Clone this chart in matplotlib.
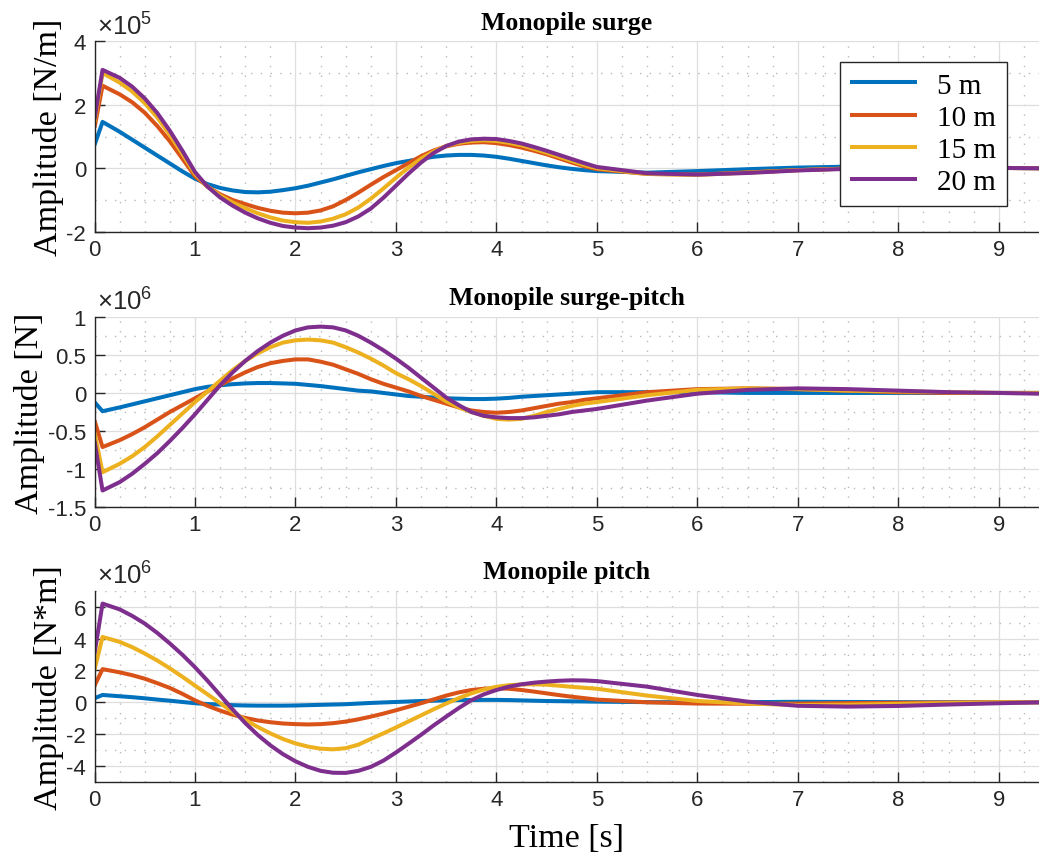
import matplotlib
matplotlib.use("Agg")
import matplotlib.pyplot as plt
from matplotlib.ticker import MultipleLocator, FixedLocator

plt.rcParams['axes.unicode_minus'] = False
plt.rcParams['mathtext.fontset'] = 'custom'
plt.rcParams['mathtext.rm'] = 'Liberation Sans'
plt.rcParams['mathtext.it'] = 'Liberation Sans:italic'

# ---------------- data ----------------
time_s = [0, 0.08, 0.25, 0.375, 0.5, 0.625, 0.75, 0.875, 1.0, 1.125, 1.25, 1.375, 1.5,
          1.625, 1.75, 1.875, 2.0, 2.125, 2.25, 2.375, 2.5, 2.625, 2.75, 2.875, 3.0,
          3.125, 3.25, 3.375, 3.5, 3.625, 3.75, 3.875, 4.0, 4.125, 4.25, 4.375, 4.5,
          4.625, 4.75, 4.875, 5.0, 5.5, 6.0, 6.5, 7.0, 7.5, 8.0, 8.5, 9.0, 9.4]
series_labels = ['5 m', '10 m', '15 m', '20 m']

# Monopile surge, units of 1e5 N/m
surge_5 = [0.73, 1.46, 1.15, 0.90, 0.65, 0.40, 0.15, -0.10, -0.33, -0.50, -0.62, -0.70,
           -0.75, -0.76, -0.74, -0.69, -0.63, -0.55, -0.45, -0.35, -0.24, -0.13, -0.03,
           0.07, 0.16, 0.23, 0.30, 0.36, 0.40, 0.42, 0.42, 0.40, 0.36, 0.30, 0.23, 0.16,
           0.09, 0.03, -0.02, -0.06, -0.09, -0.14, -0.09, -0.03, 0.02, 0.05, 0.05, 0.03,
           0.01, 0.0]
surge_10 = [1.28, 2.60, 2.33, 2.08, 1.75, 1.33, 0.85, 0.30, -0.25, -0.58, -0.82, -1.00,
            -1.13, -1.25, -1.34, -1.40, -1.42, -1.40, -1.33, -1.20, -1.00, -0.77, -0.52,
            -0.28, -0.06, 0.16, 0.38, 0.56, 0.69, 0.77, 0.81, 0.82, 0.79, 0.73, 0.65, 0.55,
            0.44, 0.31, 0.18, 0.06, -0.03, -0.18, -0.20, -0.13, -0.06, -0.01, 0.02, 0.02,
            0.01, 0.0]
surge_15 = [1.45, 3.00, 2.70, 2.42, 2.05, 1.60, 1.05, 0.45, -0.18, -0.58, -0.86, -1.08,
            -1.26, -1.42, -1.55, -1.65, -1.70, -1.72, -1.68, -1.59, -1.45, -1.24, -0.96,
            -0.64, -0.30, 0.02, 0.30, 0.53, 0.70, 0.80, 0.86, 0.88, 0.86, 0.80, 0.72, 0.61,
            0.49, 0.36, 0.23, 0.10, 0.0, -0.18, -0.21, -0.14, -0.06, -0.01, 0.02, 0.02,
            0.01, 0.0]
surge_20 = [1.55, 3.10, 2.85, 2.57, 2.20, 1.74, 1.18, 0.55, -0.12, -0.58, -0.92, -1.18,
            -1.40, -1.58, -1.72, -1.82, -1.87, -1.89, -1.87, -1.81, -1.70, -1.52, -1.27,
            -0.93, -0.55, -0.17, 0.18, 0.48, 0.70, 0.84, 0.91, 0.93, 0.92, 0.86, 0.78, 0.67,
            0.55, 0.42, 0.29, 0.16, 0.04, -0.16, -0.20, -0.15, -0.07, -0.02, 0.02, 0.02,
            0.01, 0.0]

# Monopile surge-pitch, units of 1e6 N
sp_5 = [-0.12, -0.24, -0.19, -0.15, -0.11, -0.07, -0.03, 0.01, 0.05, 0.08, 0.10, 0.115,
        0.125, 0.13, 0.13, 0.125, 0.12, 0.105, 0.09, 0.07, 0.05, 0.03, 0.02, 0.0, -0.02,
        -0.04, -0.05, -0.06, -0.07, -0.075, -0.08, -0.08, -0.075, -0.065, -0.05, -0.04,
        -0.03, -0.02, -0.01, 0.0, 0.01, 0.01, 0.01, 0.0, 0.0, 0.0, 0.0, 0.0, 0.0, 0.0]
sp_10 = [-0.36, -0.71, -0.62, -0.54, -0.45, -0.35, -0.25, -0.16, -0.07, 0.02, 0.10, 0.19,
         0.27, 0.34, 0.39, 0.42, 0.44, 0.44, 0.41, 0.37, 0.31, 0.25, 0.18, 0.12, 0.07,
         0.02, -0.04, -0.09, -0.14, -0.19, -0.23, -0.25, -0.26, -0.25, -0.23, -0.20,
         -0.17, -0.14, -0.12, -0.09, -0.07, 0.01, 0.05, 0.06, 0.05, 0.03, 0.01, 0.0, 0.0,
         0.0]
sp_15 = [-0.52, -1.04, -0.93, -0.83, -0.71, -0.57, -0.42, -0.27, -0.12, 0.02, 0.16, 0.30,
         0.42, 0.52, 0.60, 0.66, 0.69, 0.70, 0.69, 0.66, 0.60, 0.53, 0.45, 0.36, 0.26,
         0.18, 0.09, -0.01, -0.11, -0.19, -0.25, -0.30, -0.34, -0.35, -0.34, -0.30, -0.25,
         -0.21, -0.17, -0.14, -0.12, -0.03, 0.04, 0.06, 0.05, 0.03, 0.02, 0.01, 0.0, 0.0]
sp_20 = [-0.63, -1.28, -1.17, -1.06, -0.93, -0.79, -0.63, -0.46, -0.28, -0.09, 0.10, 0.27,
         0.42, 0.55, 0.66, 0.75, 0.82, 0.86, 0.87, 0.86, 0.82, 0.75, 0.66, 0.56, 0.45,
         0.33, 0.20, 0.07, -0.06, -0.16, -0.25, -0.30, -0.32, -0.33, -0.33, -0.32, -0.30,
         -0.28, -0.25, -0.23, -0.21, -0.10, -0.01, 0.04, 0.06, 0.05, 0.03, 0.01, 0.0,
         -0.01]

# Monopile pitch, units of 1e6 N*m
p_5 = [0.25, 0.46, 0.38, 0.32, 0.25, 0.17, 0.10, 0.02, -0.06, -0.11, -0.14, -0.18, -0.20,
       -0.21, -0.21, -0.21, -0.20, -0.18, -0.16, -0.14, -0.12, -0.08, -0.04, -0.01, 0.02,
       0.05, 0.08, 0.10, 0.12, 0.14, 0.14, 0.15, 0.15, 0.14, 0.12, 0.10, 0.08, 0.07, 0.06,
       0.05, 0.04, 0.01, 0.0, 0.01, 0.03, 0.02, 0.01, 0.0, 0.0, 0.0]
p_10 = [1.04, 2.08, 1.88, 1.70, 1.48, 1.20, 0.90, 0.53, 0.12, -0.22, -0.52, -0.78, -0.98,
        -1.14, -1.25, -1.33, -1.37, -1.39, -1.37, -1.31, -1.21, -1.07, -0.90, -0.71,
        -0.50, -0.28, -0.06, 0.18, 0.42, 0.62, 0.77, 0.85, 0.88, 0.85, 0.77, 0.67, 0.56,
        0.45, 0.35, 0.26, 0.17, 0.0, -0.08, -0.09, -0.08, -0.05, -0.03, -0.01, 0.0, 0.0]
p_15 = [2.02, 4.10, 3.79, 3.46, 3.06, 2.62, 2.13, 1.60, 1.05, 0.50, -0.05, -0.60, -1.10,
        -1.55, -1.95, -2.30, -2.58, -2.78, -2.91, -2.95, -2.88, -2.66, -2.30, -1.95,
        -1.58, -1.20, -0.82, -0.44, -0.08, 0.26, 0.56, 0.80, 0.97, 1.07, 1.12, 1.13, 1.10,
        1.04, 0.97, 0.91, 0.85, 0.42, 0.08, -0.08, -0.17, -0.15, -0.10, -0.05, 0.0, 0.0]
p_20 = [3.06, 6.19, 5.83, 5.42, 4.94, 4.35, 3.69, 2.98, 2.20, 1.35, 0.45, -0.45, -1.30,
        -2.05, -2.70, -3.25, -3.70, -4.05, -4.30, -4.42, -4.43, -4.30, -4.05, -3.66,
        -3.15, -2.60, -2.04, -1.45, -0.90, -0.36, 0.13, 0.50, 0.77, 0.98, 1.13, 1.23, 1.30,
        1.35, 1.38, 1.37, 1.33, 0.98, 0.46, 0.04, -0.22, -0.27, -0.23, -0.14, -0.06, 0.0]

panels = [
    dict(title='Monopile surge', ylabel='Amplitude [N/m]', exp='5',
         data=[surge_5, surge_10, surge_15, surge_20],
         ylim=(-2, 4), major=[-2, 0, 2, 4], minor=1.0),
    dict(title='Monopile surge-pitch', ylabel='Amplitude [N]', exp='6',
         data=[sp_5, sp_10, sp_15, sp_20],
         ylim=(-1.5, 1), major=[-1.5, -1, -0.5, 0, 0.5, 1], minor=0.25),
    dict(title='Monopile pitch', ylabel='Amplitude [N*m]', exp='6',
         data=[p_5, p_10, p_15, p_20],
         ylim=(-5, 7), major=[-4, -2, 0, 2, 4, 6], minor=1.0),
]

colors = ['#0072BD', '#D95319', '#EDB120', '#7E2F8E']

W, H = 1039, 853
fig = plt.figure(figsize=(W / 100, H / 100), dpi=100)

# axes pixel boxes: (left, top, right, bottom)
boxes = [(94.5, 42.3, 1039, 232.7), (94.5, 317.7, 1039, 508.3), (94.5, 591.7, 1039, 783.0)]

serif = 'Liberation Serif'
sans = 'Liberation Sans'
tickcol = '#262626'

for i, (p, b) in enumerate(zip(panels, boxes)):
    l, t, r, bt = b
    ax = fig.add_axes([l / W, 1 - bt / H, (r - l) / W, (bt - t) / H])
    for ys, c, lab in zip(p['data'], colors, series_labels):
        ax.plot(time_s[:len(ys)], ys, color=c, lw=2.9, label=lab,
                solid_joinstyle='round', solid_capstyle='butt')
    ax.set_xlim(0, 9.4)
    ax.set_ylim(*p['ylim'])
    ax.xaxis.set_major_locator(FixedLocator(list(range(10))))
    ax.xaxis.set_minor_locator(MultipleLocator(0.25))
    ax.yaxis.set_major_locator(FixedLocator(p['major']))
    ax.yaxis.set_minor_locator(MultipleLocator(p['minor']))
    ax.set_yticklabels([('%g' % v) for v in p['major']])
    ax.grid(True, which='major', color='#dedede', lw=0.9)
    ax.grid(True, which='minor', color='#b8b8b8', lw=1.0, linestyle=(0, (1, 6)))
    ax.set_axisbelow(True)
    for s in ['top', 'right']:
        ax.spines[s].set_visible(False)
    for s in ['left', 'bottom']:
        ax.spines[s].set_color(tickcol)
        ax.spines[s].set_linewidth(1.0)
    ax.tick_params(which='major', direction='in', length=7, width=1.0, color=tickcol,
                   labelcolor=tickcol, labelsize=16, pad=5)
    ax.tick_params(axis='y', which='major', pad=6)
    ax.tick_params(which='minor', length=0)
    for lab in ax.get_xticklabels() + ax.get_yticklabels():
        lab.set_fontfamily(sans)
    ax.set_title(p['title'], fontfamily=serif, fontweight='bold', fontsize=18.5, pad=9)
    ax.set_ylabel(p['ylabel'], fontfamily=serif, fontsize=24.5, labelpad=2)
    ax.annotate(r'$\times10^{%s}$' % p['exp'], xy=(0, 1), xycoords='axes fraction',
                xytext=(1.5, 5), textcoords='offset points', ha='left', va='baseline',
                fontsize=18.5, color=tickcol)
    if i == 0:
        leg = ax.legend(loc='upper right', bbox_to_anchor=(0.9658, 0.891), borderaxespad=0,
                        prop={'family': serif, 'size': 21}, frameon=True, fancybox=False,
                        framealpha=1, edgecolor=tickcol, handlelength=2.3,
                        handletextpad=0.7, labelspacing=0.2, borderpad=0.35)
        leg.get_frame().set_linewidth(1.0)
    if i == 2:
        ax.set_xlabel('Time [s]', fontfamily=serif, fontsize=24.5, labelpad=9)

fig.savefig('out.png', dpi=100)
